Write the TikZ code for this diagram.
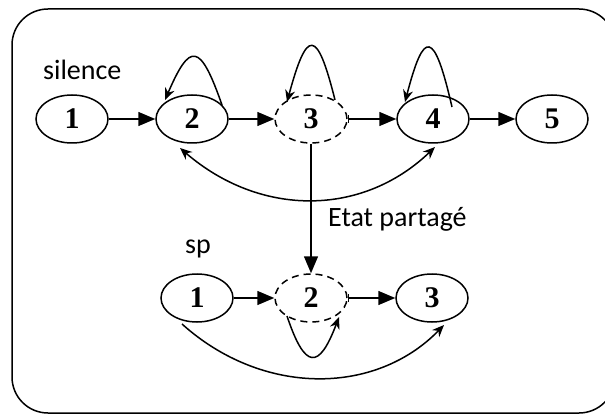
\documentclass[tikz,border=0pt]{standalone}
\usepackage{fontspec}
\setmainfont{Liberation Serif}
\newfontfamily\labelfont{Carlito}
\usetikzlibrary{arrows.meta,shapes.geometric}

\begin{document}
\begin{tikzpicture}[x=1pt,y=-1pt,
  state/.style={ellipse, draw, line width=1.5pt, minimum width=72pt,
    minimum height=48pt, inner sep=0pt,
    font=\fontsize{30}{30}\selectfont\bfseries},
  shared/.style={state, dash pattern=on 7pt off 5pt},
  link/.style={line width=1.5pt, -{Triangle[length=17pt,width=14pt]}},
  barlink/.style={line width=1.5pt,
    {Bar[width=8pt,line width=1pt]}-{Triangle[length=17pt,width=14pt]}},
  loopy/.style={line width=1.5pt, -{Stealth[length=12pt,width=10pt]}},
  both/.style={line width=1.5pt,
    {Stealth[length=12pt,width=10pt]}-{Stealth[length=12pt,width=10pt]}},
  tag/.style={font=\labelfont\fontsize{28}{28}\selectfont, inner sep=0pt}
]
\useasboundingbox (0,0) rectangle (605,414);

% outer frame
\begin{scope}
  \clip (0,0) rectangle (605,414);
  \draw[line width=1.5pt, rounded corners=36pt] (12,9) rectangle (615,413);
\end{scope}

% silence model
\node[tag, anchor=base west] (lsil) at (43,80) {silence};
\node[state]  (t1) at (72,119)  {1};
\node[state]  (t2) at (192,119) {2};
\node[shared] (t3) at (311,119) {3};
\node[state]  (t4) at (433,119) {4};
\node[state]  (t5) at (552,119) {5};

\draw[link]    (t1) -- (t2);
\draw[link]    (t2) -- (t3);
\draw[barlink] (t3) -- (t4);
\draw[link]    (t4) -- (t5);

% self loops
\draw[loopy] ([shift={(30,-14)}]t2.center)
  .. controls ([shift={(8,-77)}]t2.center) and ([shift={(-2,-77)}]t2.center)
  .. ([shift={(-27,-19)}]t2.center);
\draw[loopy] ([shift={(24,-19)}]t3.center)
  .. controls ([shift={(6,-91)}]t3.center) and ([shift={(-4,-91)}]t3.center)
  .. ([shift={(-24,-17)}]t3.center);
\draw[loopy] ([shift={(19,-12)}]t4.center)
  .. controls ([shift={(1,-90)}]t4.center) and ([shift={(-9,-90)}]t4.center)
  .. ([shift={(-28,-17)}]t4.center);

% skip transition between 2 and 4
\draw[both] ([shift={(-12,29)}]t2.center)
  .. controls ([shift={(68,98)}]t2.center) and ([shift={(-71,98)}]t4.center)
  .. ([shift={(2,28)}]t4.center);

% shared state
\node[tag, anchor=base west] (lshare) at (328,227) {Etat partagé};

% sp model
\node[tag, anchor=base west] (lsp) at (185,254) {sp};
\node[state]  (b1) at (197,298) {1};
\node[shared] (b2) at (311,298) {2};
\node[state]  (b3) at (432,298) {3};

\draw[link] (t3) -- (b2);

\draw[link]    (b1) -- (b2);
\draw[barlink] (b2) -- (b3);

\draw[loopy] ([shift={(-24,18)}]b2.center)
  .. controls ([shift={(-6,72)}]b2.center) and ([shift={(8,72)}]b2.center)
  .. ([shift={(28,19)}]b2.center);

\draw[loopy] ([shift={(-15,26)}]b1.center)
  .. controls ([shift={(65,98)}]b1.center) and ([shift={(-57,98)}]b3.center)
  .. ([shift={(12,27)}]b3.center);
\end{tikzpicture}
\end{document}
